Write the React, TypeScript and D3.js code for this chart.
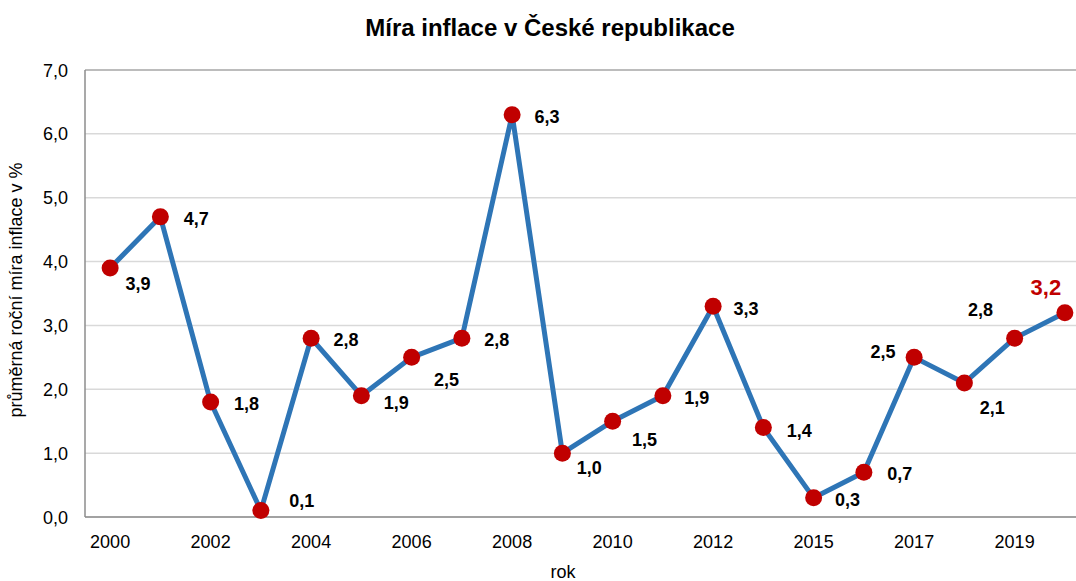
import React from 'react';
import * as d3 from 'd3';

// roky (2014 v grafu chybí)
const years = ['2000', '2001', '2002', '2003', '2004', '2005', '2006', '2007', '2008', '2009', '2010',
  '2011', '2012', '2013', '2015', '2016', '2017', '2018', '2019', '2020'];
const inflation = [3.9, 4.7, 1.8, 0.1, 2.8, 1.9, 2.5, 2.8, 6.3, 1.0, 1.5, 1.9, 3.3, 1.4, 0.3, 0.7, 2.5, 2.1, 2.8, 3.2];
const yTicks = [0, 1, 2, 3, 4, 5, 6, 7];

// posun popisků dat vůči bodu (dx, dy)
const labelOffsets: [number, number][] = [
  [28, 16], [36, 2], [36, 1], [41, -10], [35, 1], [35, 7], [35, 22], [35, 1], [35, 2], [27, 14],
  [32, 18], [34, 2], [33, 2], [36, 3], [34, 2], [36, 1], [-31, -6], [28, 25], [-34, -29], [-19, -25],
];

const W = 1076;
const H = 581;
const fmt = (v: number) => v.toFixed(1).replace('.', ',');

export default function App() {
  document.body.style.margin = '0';

  const x = d3.scalePoint<string>().domain(years).range([85, 1090]).padding(0.5);
  const y = d3.scaleLinear().domain([0, 7]).range([517, 70]);

  const line = d3.line<number>()
    .x((_, i) => x(years[i]) as number)
    .y(d => y(d));

  const font = 'Arial, "Liberation Sans", sans-serif';
  const last = inflation.length - 1;

  return (
    <svg width={W} height={H} style={{ display: 'block', fontFamily: font, background: '#fff' }}>
      <text x={550} y={36} textAnchor="middle" fontSize={24} fontWeight="bold">Míra inflace v České republikace</text>

      {/* mřížka */}
      {yTicks.map(t => (
        <line key={t} x1={85} x2={1090} y1={y(t)} y2={y(t)}
          stroke={t === 7 ? '#a6a6a6' : '#d9d9d9'} strokeWidth={1.5} />
      ))}
      {yTicks.map(t => (
        <text key={'l' + t} x={68} y={y(t) + 6.5} textAnchor="end" fontSize={18}>{fmt(t)}</text>
      ))}

      {/* osy */}
      <line x1={85} x2={85} y1={y(7)} y2={y(0)} stroke="#8c8c8c" strokeWidth={1.5} />
      <line x1={85} x2={1090} y1={y(0)} y2={y(0)} stroke="#8c8c8c" strokeWidth={1.5} />

      {years.map((yr, i) => i % 2 === 0 ? (
        <text key={yr} x={x(yr)} y={548} textAnchor="middle" fontSize={18}>{yr}</text>
      ) : null)}

      <text x={563} y={578} textAnchor="middle" fontSize={18}>rok</text>
      <text transform={`translate(22, 290) rotate(-90)`} textAnchor="middle" fontSize={18}>průměrná roční míra inflace v %</text>

      <path d={line(inflation) ?? ''} fill="none" stroke="#2e75b6" strokeWidth={5} strokeLinejoin="round" />

      {inflation.map((v, i) => (
        <circle key={'c' + i} cx={x(years[i])} cy={y(v)} r={8.5} fill="#c00000" />
      ))}

      {inflation.map((v, i) => (
        <text key={'t' + i}
          x={(x(years[i]) as number) + labelOffsets[i][0]}
          y={y(v) + labelOffsets[i][1] + (i === last ? 7.5 : 6.5)}
          textAnchor="middle"
          fontSize={i === last ? 22 : 18}
          fontWeight="bold"
          fill={i === last ? '#c00000' : '#000'}>
          {fmt(v)}
        </text>
      ))}
    </svg>
  );
}
